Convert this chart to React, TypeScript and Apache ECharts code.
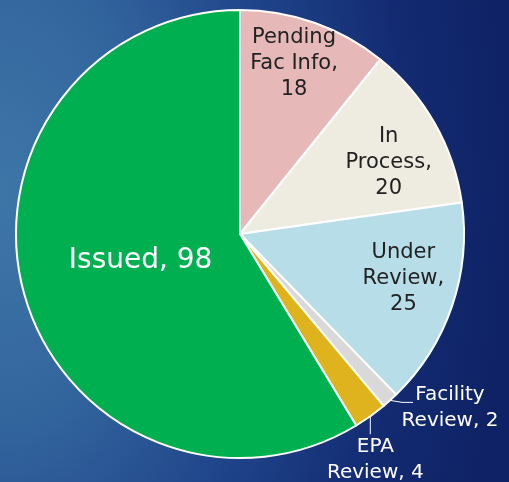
import React, { useEffect, useRef } from 'react';
import * as echarts from 'echarts';

const categories = ['Pending Fac Info', 'In Process', 'Under Review', 'Facility Review', 'EPA Review', 'Issued'];
const categoryLines = ['Pending\nFac Info', 'In\nProcess', 'Under\nReview', 'Facility\nReview', 'EPA\nReview', 'Issued'];
const values = [18, 20, 25, 2, 4, 98];
const colors = ['#e6b9b8', '#eeece1', '#b7dee8', '#d9d9d9', '#dfb31e', '#00b050'];

const CX = 240;
const CY = 234;
const R = 224;
const FONT = 'DejaVu Sans';

export default function App() {
  const ref = useRef<HTMLDivElement>(null);

  useEffect(() => {
    if (!ref.current) return;
    const chart = echarts.init(ref.current, undefined, { renderer: 'svg' });
    // radial scale and angular shift (degrees) of inside labels
    const radialFactor: Record<number, number> = { 0: 1.57, 1: 1.44, 2: 1.47, 5: 0.89 };
    const angleShift: Record<number, number> = { 0: 2, 1: -3.5, 2: 4, 5: -1.8 };

    const data = categories.map((name, i) => {
      const outside = i === 3 || i === 4;
      const isIssued = i === 5;
      return {
        name,
        value: values[i],
        itemStyle: { color: colors[i] },
        label: outside
          ? { position: 'outside', color: '#ffffff', fontSize: 20, lineHeight: 26, alignTo: 'none' }
          : {
              position: 'inside',
              color: isIssued ? '#ffffff' : '#222222',
              fontSize: isIssued ? 28 : 21,
              lineHeight: isIssued ? 32 : 26,
            },
        labelLine: outside
          ? { show: true, length: 10, length2: 10, lineStyle: { color: '#ffffff', width: 1 } }
          : { show: false },
      };
    });

    chart.setOption({
      animation: false,
      series: [
        {
          type: 'pie',
          center: [CX, CY],
          radius: R,
          startAngle: 90,
          clockwise: true,
          avoidLabelOverlap: false,
          itemStyle: { borderColor: '#ffffff', borderWidth: 2 },
          label: {
            fontFamily: FONT,
            formatter: (p: any) => {
              const i = p.dataIndex;
              const sep = i < 3 ? ',\n' : ', ';
              return categoryLines[i] + sep + p.value;
            },
          },
          labelLayout: (p: any) => {
            const i = p.dataIndex;
            if (i === 3 || i === 4) {
              const pts = p.labelLinePoints;
              const e = pts && pts[0] ? pts[0] : [CX, CY];
              if (i === 3) {
                return {
                  x: e[0] + 60,
                  y: e[1] + 6,
                  align: 'center',
                  verticalAlign: 'middle',
                  labelLinePoints: [e, [e[0] + 12, e[1] + 2], [e[0] + 23, e[1] + 2]],
                };
              }
              return {
                x: e[0] + 5,
                y: e[1] + 16,
                align: 'center',
                verticalAlign: 'top',
                labelLinePoints: [e, [e[0], e[1] + 9], [e[0], e[1] + 18]],
              };
            }
            const lr = p.labelRect;
            const mx = lr.x + lr.width / 2;
            const my = lr.y + lr.height / 2;
            const f = radialFactor[i] ?? 1;
            const a = Math.atan2(-(my - CY), mx - CX) + ((angleShift[i] ?? 0) * Math.PI) / 180;
            const r = Math.hypot(mx - CX, my - CY) * f;
            return {
              x: CX + r * Math.cos(a),
              y: CY - r * Math.sin(a),
              align: 'center',
              verticalAlign: 'middle',
            };
          },
          data,
        },
      ],
    });
    return () => chart.dispose();
  }, []);

  return (
    <div
      ref={ref}
      style={{
        position: 'fixed',
        left: 0,
        top: 0,
        width: 509,
        height: 482,
        background:
          'radial-gradient(ellipse 100% 170% at 0% 40%, #3e76a8 0%, #33659d 28%, #1f448a 55%, #132b72 80%, #0f2265 100%)',
      }}
    />
  );
}
